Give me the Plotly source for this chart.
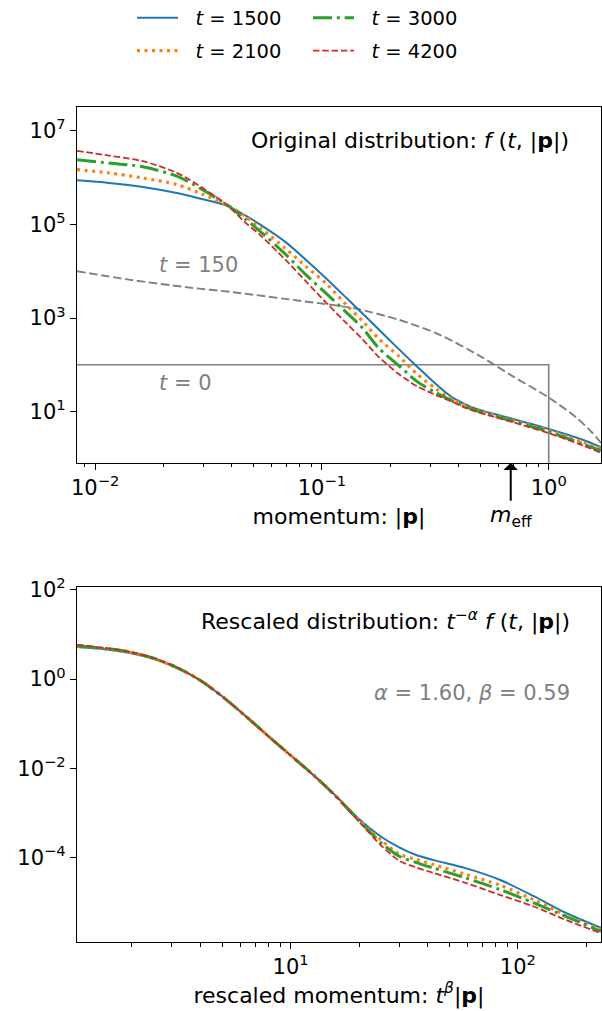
import numpy as np
import plotly.graph_objects as go

# ---------------- data ----------------
times = [1500, 2100, 3000, 4200]
colors = ["#1f77b4", "#ff7f0e", "#2ca02c", "#d62728"]
gray = "#808080"

# top panel: momentum |p| and f(t,|p|)
p_top = [0.00832, 0.01148, 0.01622, 0.02291, 0.02951, 0.03802, 0.04571, 0.05370,
         0.06918, 0.08511, 0.1047, 0.1288, 0.1514, 0.1778, 0.2188, 0.2630,
         0.3162, 0.3715, 0.4365, 0.5012, 0.6761, 1.000, 1.413, 1.700]
f_t1500 = [8.71e5, 7.67e5, 6.31e5, 4.68e5, 3.47e5, 2.51e5, 1.58e5, 9.77e4,
           4.17e4, 1.74e4, 6.92e3, 2.63e3, 1.23e3, 575, 214, 91.2,
           39.8, 20.9, 13.8, 10.7, 7.24, 4.27, 2.51, 1.74]
f_t2100 = [1.48e6, 1.26e6, 9.77e5, 7.08e5, 4.47e5, 2.63e5, 1.51e5, 8.32e4,
           3.02e4, 1.26e4, 5.37e3, 1.86e3, 851, 363, 151, 63.1,
           31.6, 19.1, 13.2, 10.2, 6.76, 3.98, 2.24, 1.62]
f_t3000 = [2.40e6, 2.04e6, 1.70e6, 1.07e6, 5.62e5, 2.63e5, 1.32e5, 6.92e4,
           2.29e4, 8.32e3, 3.31e3, 1.29e3, 603, 229, 95.5, 43.7,
           25.7, 17.4, 12.3, 9.77, 6.46, 3.72, 2.04, 1.48]
f_t4200 = [3.72e6, 2.95e6, 2.24e6, 1.26e6, 6.17e5, 2.63e5, 1.12e5, 5.75e4,
           1.74e4, 6.03e3, 2.09e3, 759, 347, 148, 63.1, 34.7,
           22.9, 16.6, 11.7, 9.33, 6.17, 3.47, 1.91, 1.32]

# reference curves: t = 150 and initial condition t = 0
p_t150 = [0.00832, 0.0141, 0.0251, 0.0407, 0.0794, 0.138, 0.219, 0.331,
          0.501, 0.692, 1.0, 1.318, 1.549, 1.70]
f_t150 = [1.0e4, 6.6e3, 4.57e3, 3.55e3, 2.34e3, 1.62e3, 912, 437,
          151, 57.5, 20.0, 7.59, 3.63, 2.14]
p_t0 = [0.001, 1.0, 1.0]
f_t0 = [100, 100, 1e-3]

m_eff = 0.68
alpha, beta = 1.60, 0.59

# bottom panel: rescaled momentum t^beta |p| and t^-alpha f
x_resc = [1.148, 1.585, 1.995, 2.512, 3.162, 3.981, 5.012, 6.310, 7.943, 10.0, 12.59,
          15.85, 19.95, 25.12, 30.20, 35.48, 42.66, 58.88, 83.18, 117.5, 162.2, 232.3]
g_t1500 = [5.25, 4.57, 3.80, 2.82, 1.78, 0.955, 0.407, 0.151, 0.0537, 0.0195, 7.08e-3,
           2.40e-3, 7.41e-4, 2.88e-4, 1.66e-4, 1.15e-4, 8.71e-5, 5.75e-5, 3.16e-5,
           1.35e-5, 5.75e-6, 2.63e-6]
g_t2100 = [5.50, 4.68, 3.89, 2.88, 1.80, 0.955, 0.407, 0.151, 0.0537, 0.0195, 7.08e-3,
           2.34e-3, 6.92e-4, 2.40e-4, 1.17e-4, 9.12e-5, 6.92e-5, 4.17e-5, 2.40e-5,
           1.12e-5, 5.13e-6, 2.40e-6]
g_t3000 = [5.62, 4.79, 3.98, 2.92, 1.82, 0.955, 0.407, 0.151, 0.0537, 0.0195, 7.08e-3,
           2.34e-3, 6.76e-4, 2.09e-4, 1.05e-4, 7.76e-5, 5.75e-5, 3.47e-5, 1.91e-5,
           9.55e-6, 4.79e-6, 2.19e-6]
g_t4200 = [5.89, 4.90, 4.07, 2.95, 1.82, 0.955, 0.407, 0.151, 0.0537, 0.0195, 7.08e-3,
           2.29e-3, 6.46e-4, 1.82e-4, 8.32e-5, 6.03e-5, 4.47e-5, 2.69e-5, 1.45e-5,
           7.94e-6, 3.98e-6, 2.00e-6]

# tick labels
top_x_ticks = [0.01, 0.1, 1]
top_x_labels = ["10<sup>−2</sup>", "10<sup>−1</sup>", "10<sup>0</sup>"]
top_y_ticks = [10, 1e3, 1e5, 1e7]
top_y_labels = ["10<sup>1</sup>", "10<sup>3</sup>", "10<sup>5</sup>", "10<sup>7</sup>"]
bot_x_ticks = [10, 100]
bot_x_labels = ["10<sup>1</sup>", "10<sup>2</sup>"]
bot_y_ticks = [1e-4, 1e-2, 1, 100]
bot_y_labels = ["10<sup>−4</sup>", "10<sup>−2</sup>", "10<sup>0</sup>", "10<sup>2</sup>"]
top_x_minor = [0.009] + [k * 0.01 for k in range(2, 10)] + [k * 0.1 for k in range(2, 10)]
bot_x_minor = [k for k in range(2, 10)] + [k * 10 for k in range(2, 10)] + [200]

# ---------------- styles ----------------
styles = [
    dict(width=2.0, dash="solid"),
    dict(width=3.2, dash="3px,4.5px"),
    dict(width=3.0, dash="19px,4.8px,3px,4.8px"),
    dict(width=1.8, dash="6.5px,2.8px"),
]
legend_ids = ["legend", "legend3", "legend2", "legend4"]

fig = go.Figure()
top_f = [f_t1500, f_t2100, f_t3000, f_t4200]
bot_g = [g_t1500, g_t2100, g_t3000, g_t4200]

fig.add_trace(go.Scatter(x=p_t0, y=f_t0, mode="lines", line=dict(color=gray, width=1.6),
                         showlegend=False, xaxis="x", yaxis="y", hoverinfo="skip"))
fig.add_trace(go.Scatter(x=p_t150, y=f_t150, mode="lines",
                         line=dict(color=gray, width=1.9, dash="8.5px,3.6px", shape="spline", smoothing=0.8),
                         showlegend=False, xaxis="x", yaxis="y"))

for i, t in enumerate(times):
    fig.add_trace(go.Scatter(
        x=p_top, y=top_f[i], mode="lines", name=f"\u00a0\u00a0<i>t</i> = {t}",
        line=dict(color=colors[i], shape="spline", smoothing=0.8, **styles[i]),
        legend=legend_ids[i], xaxis="x", yaxis="y"))
for i, t in enumerate(times):
    fig.add_trace(go.Scatter(
        x=x_resc, y=bot_g[i], mode="lines", name=f"<i>t</i> = {t}",
        line=dict(color=colors[i], shape="spline", smoothing=0.8, **styles[i]),
        showlegend=False, xaxis="x2", yaxis="y2"))

axis_common = dict(type="log", showline=True, mirror=True, linecolor="black", linewidth=1.2,
                   ticks="outside", ticklen=6, tickwidth=1.2, tickcolor="black",
                   showgrid=False, zeroline=False, tickmode="array", automargin=False,
                   tickfont=dict(size=21, color="black"))

leg_common = dict(xref="container", yref="container", xanchor="left", yanchor="middle",
                  bgcolor="rgba(0,0,0,0)", font=dict(size=19.5, color="black"), itemwidth=41,
                  borderwidth=0)

fig.update_layout(
    width=602, height=1011,
    margin=dict(l=77, r=1, t=107, b=69, autoexpand=False),
    paper_bgcolor="white", plot_bgcolor="white",
    font=dict(family="DejaVu Sans", size=21, color="black"),
    xaxis=dict(axis_common, range=[-2.08, 0.2306], domain=[0, 1], anchor="y",
               tickvals=top_x_ticks, ticktext=top_x_labels,
               minor=dict(tickmode="array", tickvals=top_x_minor, ticks="outside",
                          ticklen=3.5, tickwidth=1, tickcolor="black", showgrid=False),
               title=dict(text="momentum: |<b>p</b>|", font=dict(size=22), standoff=9)),
    yaxis=dict(axis_common, range=[-0.091, 7.507], domain=[0.574, 1], anchor="x",
               tickvals=top_y_ticks, ticktext=top_y_labels),
    xaxis2=dict(axis_common, range=[0.06, 2.366], domain=[0, 1], anchor="y2",
                tickvals=bot_x_ticks, ticktext=bot_x_labels,
                minor=dict(tickmode="array", tickvals=bot_x_minor, ticks="outside",
                           ticklen=3.5, tickwidth=1, tickcolor="black", showgrid=False),
                title=dict(text="rescaled momentum: <i>t</i><sup><i>β</i></sup>|<b>p</b>|",
                           font=dict(size=22), standoff=0)),
    yaxis2=dict(axis_common, range=[-5.897, 2.06], domain=[0, 0.4248], anchor="x2",
                tickvals=bot_y_ticks, ticktext=bot_y_labels),
    legend=dict(leg_common, x=132 / 602, y=1 - 18 / 1011),
    legend3=dict(leg_common, x=132 / 602, y=1 - 51 / 1011),
    legend2=dict(leg_common, x=308 / 602, y=1 - 18 / 1011),
    legend4=dict(leg_common, x=308 / 602, y=1 - 51 / 1011),
)

annotations = [
    dict(xref="x domain", yref="y domain", x=0.943, y=0.905, xanchor="right", yanchor="middle",
         text="Original distribution: <i>f</i> (<i>t</i>, |<b>p</b>|)", showarrow=False,
         font=dict(size=22, color="black")),
    dict(xref="x2 domain", yref="y2 domain", x=0.945, y=0.905, xanchor="right", yanchor="middle",
         text="Rescaled distribution: <i>t</i><sup>−<i>α</i></sup> <i>f</i> (<i>t</i>, |<b>p</b>|)",
         showarrow=False, font=dict(size=22, color="black")),
    dict(xref="x2 domain", yref="y2 domain", x=0.945, y=0.703, xanchor="right", yanchor="middle",
         text=f"<i>α</i> = {alpha:.2f}, <i>β</i> = {beta:.2f}", showarrow=False,
         font=dict(size=21, color=gray)),
    dict(xref="x", yref="y", x=np.log10(0.0187), y=4.138, xanchor="left", yanchor="middle",
         text="<i>t</i> = 150", showarrow=False, font=dict(size=21, color=gray)),
    dict(xref="x", yref="y", x=np.log10(0.0187), y=1.614, xanchor="left", yanchor="middle",
         text="<i>t</i> = 0", showarrow=False, font=dict(size=21, color=gray)),
    dict(xref="x", yref="y domain", x=np.log10(m_eff), y=0, ax=0, ay=54,
         text="<i>m</i><sub>eff</sub>", showarrow=True, arrowhead=1, arrowsize=1.2,
         arrowwidth=2, arrowcolor="black", standoff=0, startstandoff=0,
         font=dict(size=22, color="black")),
]
fig.update_layout(annotations=annotations)

fig.write_html("out.html")
